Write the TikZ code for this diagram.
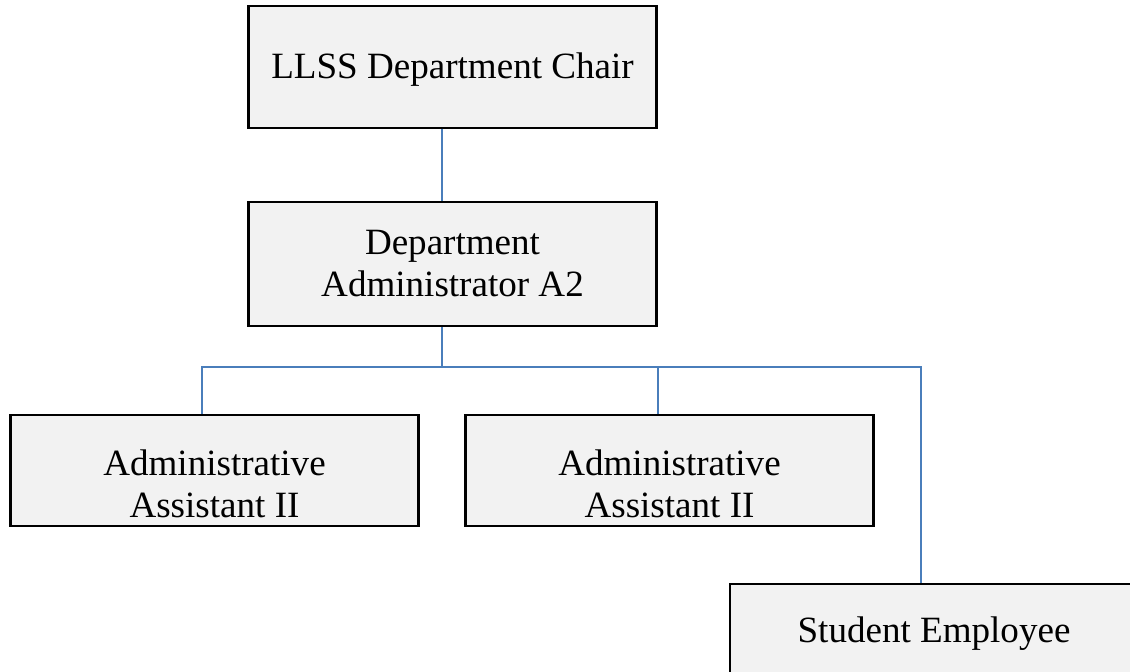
\documentclass[tikz,border=0pt]{standalone}
\usepackage{fontspec}
\setmainfont{Liberation Serif}
\usepackage{tikz}
\usetikzlibrary{positioning}

\definecolor{boxgray}{HTML}{F2F2F2}
\definecolor{linkblue}{HTML}{4A7EBB}

\begin{document}
\begin{tikzpicture}[x=0.75pt,y=-0.75pt,
    post/.style={draw=black,fill=boxgray,line width=1.6pt,minimum width=306pt},
    wording/.style={align=center,font=\fontsize{27.8}{31.5}\selectfont},
    link/.style={draw=linkblue,line width=2pt}]
  \clip (0,0) rectangle (1130,671);

  \node[post,minimum height=91pt,label={[wording,name=chairText,yshift=-2.2pt]center:LLSS Department Chair}] (chair) at (452.5,67) {};
  \node[post,minimum height=93pt,label={[wording,name=adminText]center:Department\\Administrator A2}] (admin) at (452.5,264) {};
  \node[post,minimum height=83pt,label={[wording,name=asstAText,yshift=-10pt]center:Administrative\\Assistant II}] (asstA) at (214.5,470.5) {};
  \node[post,minimum height=83pt,label={[wording,name=asstBText,yshift=-10pt]center:Administrative\\Assistant II}] (asstB) at (669.5,470.5) {};
  \node[post,minimum height=83pt,label={[wording,name=studentText,yshift=4.5pt]center:Student Employee}] (student) at (934,639.5) {};

  % branch points on the bus line
  \coordinate (hub) at (442,367);
  \coordinate (dropA) at (202,367);
  \coordinate (dropB) at (658,367);
  \coordinate (dropC) at (921,367);

  \draw[link] (chair.south -| hub) -- (admin.north -| hub);
  \draw[link] (admin.south -| hub) -- (hub);
  \draw[link] (dropA |- asstA.north) -- (dropA) -- (dropC) -- (dropC |- student.north);
  \draw[link] (dropB) -- (dropB |- asstB.north);
\end{tikzpicture}
\end{document}
